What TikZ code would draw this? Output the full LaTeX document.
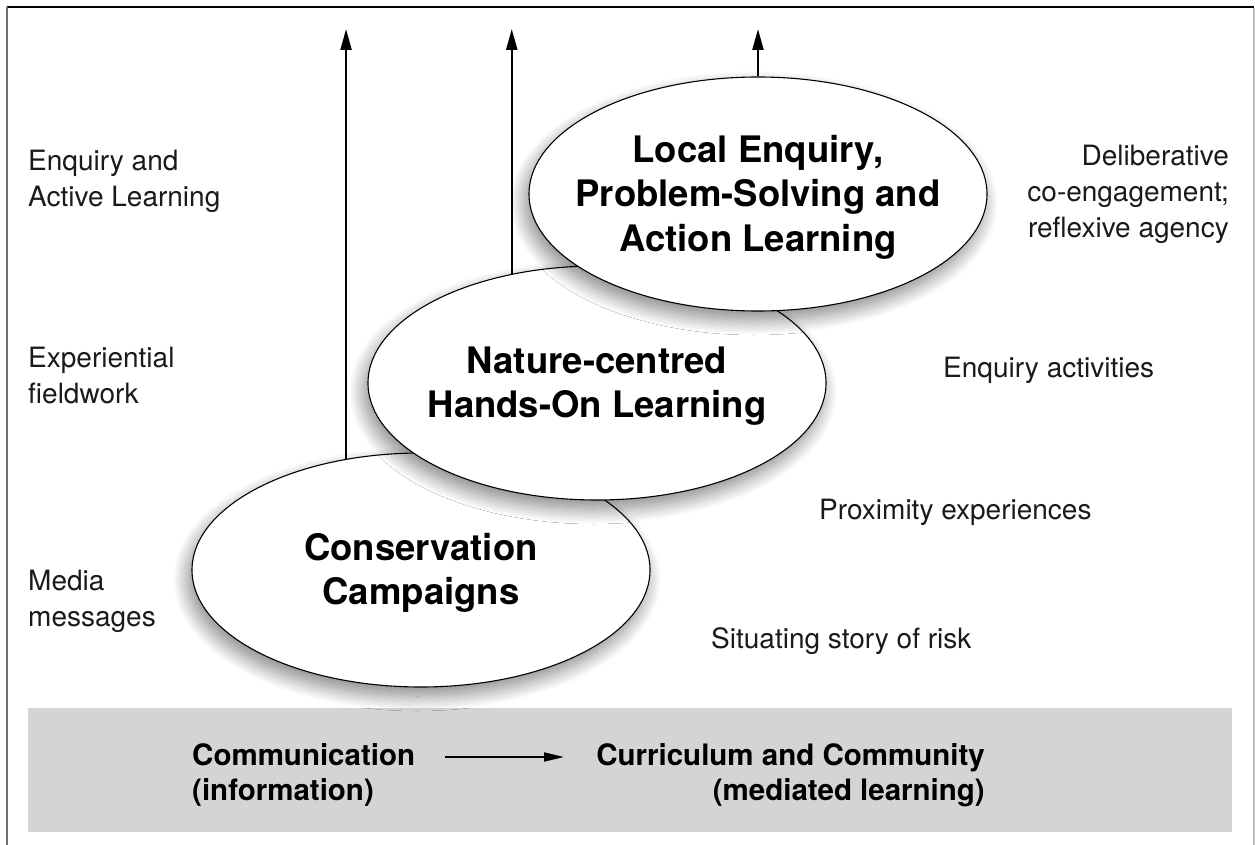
\documentclass[tikz,border=0pt]{standalone}
\usepackage{fontspec}
\setmainfont{TeX Gyre Heros}
\usetikzlibrary{arrows.meta,shapes.geometric,shadows.blur}
\definecolor{boxgray}{HTML}{D3D4D6}
\definecolor{leftgray}{HTML}{707070}
\definecolor{rightgray}{HTML}{BDBDBD}
\definecolor{lighttext}{HTML}{1A1A1A}
\begin{document}
\begin{tikzpicture}[x=1pt,y=-1pt,
  ell/.style={ellipse, draw=black, line width=1.1pt, fill=white,
    minimum width=458pt, minimum height=234pt, inner sep=0pt,
    blur shadow={shadow xshift=-4pt, shadow yshift=-9pt, shadow blur radius=15pt, shadow blur steps=18, shadow opacity=48}},
  etext/.style={align=center, inner sep=0pt, yshift=-3pt, font=\fontsize{36.5}{44.5}\selectfont\bfseries},
  lab/.style={inner sep=0pt, text=lighttext, font=\fontsize{28}{36}\selectfont},
  btext/.style={inner sep=0pt, font=\fontsize{29.5}{35}\selectfont\bfseries},
  up/.style={line width=2.3pt, -{Triangle[length=21pt,width=11pt]}},
  flow/.style={line width=1.8pt, -{Triangle[length=20pt,width=9pt]}}
]
\useasboundingbox (0,0) rectangle (1255,845);
% frame
\draw[line width=1.6pt] (7,7) -- (1254,7);
\draw[leftgray, line width=1.2pt] (7,7) -- (7,845);
\draw[rightgray, line width=1.5pt] (1254,8) -- (1254,845);
% bottom band
\fill[boxgray] (28,708) rectangle (1232,832);
% ellipses
\node[ell] (e1) at (421,570) {};
\node[etext] (t1) at (e1) {Conservation\\Campaigns};
\node[ell] (e2) at (597,383) {};
\node[etext] (t2) at (e2) {Nature-centred\\Hands-On Learning};
\node[ell] (e3) at (758,194) {};
\node[etext] (t3) at (e3) {Local Enquiry,\\Problem-Solving and\\Action Learning};
% vertical arrows
\coordinate (top) at (0,29);
\draw[up] (e1.124.5) -- (e1.124.5 |- top);
\draw[up] (e2.128.7) -- (e2.128.7 |- top);
\draw[up] (e3.north) -- (e3.north |- top);
% left labels
\node[lab, align=left, anchor=west] (l1) at (28,181) {Enquiry and\\Active Learning};
\node[lab, align=left, anchor=west] (l2) at (28,376) {Experiential\\fieldwork};
\node[lab, align=left, anchor=west] (l3) at (28,601) {Media\\messages};
% right labels
\node[lab, align=right, anchor=east] (r1) at (1229,194) {Deliberative\\co-engagement;\\reflexive agency};
\node[lab, anchor=west] (r2) at (943,370) {Enquiry activities};
\node[lab, anchor=west] (r3) at (819,512) {Proximity experiences};
\node[lab, anchor=west] (r4) at (711,641) {Situating story of risk};
% bottom texts
\node[btext, align=left, anchor=west] (b1) at (192,775) {Communication\\(information)};
\node[btext, align=right, anchor=east] (b2) at (985,775) {Curriculum and Community\\(mediated learning)};
\coordinate (a1) at (445,757);
\coordinate (a2) at (564,757);
\draw[flow] (a1) -- (a2);
\end{tikzpicture}
\end{document}
